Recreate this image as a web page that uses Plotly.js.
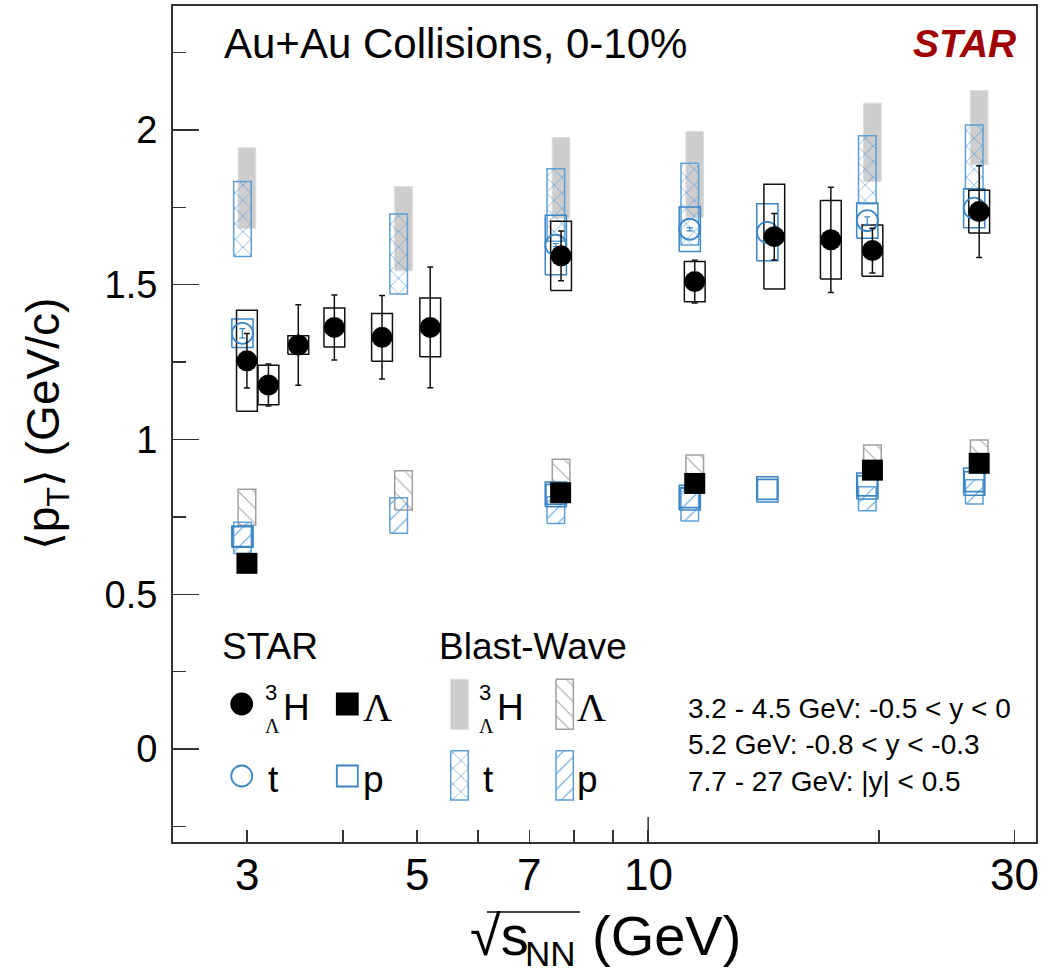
<!DOCTYPE html>
<html><head><meta charset="utf-8">
<script src="https://cdn.plot.ly/plotly-3.0.1.min.js"></script>
<style>html,body{margin:0;padding:0;background:#fff}</style>
</head><body><div id="chart" style="width:1054px;height:973px"></div>
<script>
// ---------------- data ----------------
// STAR hypertriton <pT>
const hEnergy = [3.0, 3.2, 3.5, 3.9, 4.5, 5.2, 7.7, 11.5, 14.6, 17.3, 19.6, 27];
const hMean   = [1.254, 1.176, 1.305, 1.362, 1.330, 1.362, 1.593, 1.510, 1.655, 1.645, 1.610, 1.736];
const hStat   = [0.088, 0.068, 0.130, 0.105, 0.135, 0.195, 0.080, 0.069, 0.075, 0.170, 0.072, 0.148];
const hSys    = [0.163, 0.064, 0.030, 0.063, 0.077, 0.095, 0.112, 0.065, 0.169, 0.127, 0.083, 0.069];
// STAR triton
const tEnergy = [2.96, 7.58, 11.33, 14.3, 19.3, 26.6];
const tMean   = [1.343, 1.628, 1.679, 1.669, 1.707, 1.747];
const tStat   = [0.015, 0.005, 0.005, 0.005, 0.012, 0.005];
const tSys    = [0.046, 0.096, 0.072, 0.092, 0.057, 0.063];
// STAR Lambda
const lEnergy = [3.0, 7.69, 11.5, 19.6, 27];
const lMean   = [0.600, 0.828, 0.858, 0.901, 0.923];
// STAR proton
const pEnergy = [2.96, 7.58, 11.33, 14.3, 19.3, 26.6];
const pMean   = [0.686, 0.823, 0.812, 0.839, 0.850, 0.864];
const pSys    = [0.034, 0.040, 0.040, 0.041, 0.042, 0.044];
// Blast-Wave ranges
const bwHEnergy = [3.0, 4.8, 7.7, 11.5, 19.6, 27];
const bwHLow    = [1.682, 1.545, 1.715, 1.718, 1.833, 1.887];
const bwHHigh   = [1.942, 1.817, 1.975, 1.995, 2.086, 2.127];
const bwLLow    = [0.723, 0.772, 0.835, 0.860, 0.890, 0.910];
const bwLHigh   = [0.839, 0.899, 0.936, 0.950, 0.982, 0.998];
const bwTEnergy = [2.96, 4.73, 7.58, 11.33, 19.3, 26.6];
const bwTLow    = [1.591, 1.470, 1.640, 1.628, 1.761, 1.808];
const bwTHigh   = [1.833, 1.728, 1.874, 1.892, 1.981, 2.016];
const bwPLow    = [0.632, 0.697, 0.729, 0.737, 0.770, 0.792];
const bwPHigh   = [0.733, 0.812, 0.815, 0.842, 0.847, 0.870];
// axis ticks
const xTickVals  = [3, 5, 7, 10, 30];
const xTickText  = ['3', '5', '7', '10', '30'];
const xMinorVals = [4, 6, 8, 9, 20];
const yTickVals  = [0, 0.5, 1, 1.5, 2];
const yTickText  = ['0', '0.5', '1', '1.5', '2'];

// ---------------- geometry / style ----------------
const W = 1054, H = 973, L = 173, R = 18, T = 6, B = 131;
const xLogRange = [0.3808, 1.5054];
const yRange = [-0.3, 2.4];
const pxPerDec = (W - L - R) / (xLogRange[1] - xLogRange[0]);
const BLUE = '#3b86c6', BLUE_H = '#5f9fd6', FRAME = '#333333';
const FONT = 'Liberation Sans, Arial, Helvetica, sans-serif';
const SERIF = 'Liberation Serif, Times New Roman, serif';
const PX = x => (x - L) / (W - L - R);      // pixel -> paper x
const PY = y => (H - B - y) / (H - B - T);  // pixel -> paper y

function boxPath(xs, lo, hi, halfPx) {
  const f = Math.pow(10, halfPx / pxPerDec);
  const X = [], Y = [];
  xs.forEach((x, i) => {
    const a = x / f, b = x * f;
    X.push(a, b, b, a, a, null);
    Y.push(lo[i], lo[i], hi[i], hi[i], lo[i], null);
  });
  return {x: X, y: Y};
}
const minus = (m, e) => m.map((v, i) => v - e[i]);
const plus  = (m, e) => m.map((v, i) => v + e[i]);

const traces = [];
function boxTrace(path, line, fill, pattern, xa, ya) {
  const t = {x: path.x, y: path.y, mode: 'lines', type: 'scatter', hoverinfo: 'skip',
    showlegend: false, connectgaps: false, line: line, fill: 'toself',
    fillcolor: fill || 'rgba(0,0,0,0)'};
  if (pattern) t.fillpattern = pattern;
  if (xa) { t.xaxis = xa; t.yaxis = ya; }
  return t;
}
const patT = {shape: 'x', size: 11, solidity: 0.12, fgcolor: BLUE_H, bgcolor: 'rgba(0,0,0,0)'};
const patP = {shape: '/', size: 11, solidity: 0.1, fgcolor: BLUE_H, bgcolor: 'rgba(0,0,0,0)'};
const patL = {shape: '\\', size: 11, solidity: 0.1, fgcolor: '#a8a8a8', bgcolor: 'rgba(0,0,0,0)'};

// Blast-wave bands
traces.push(boxTrace(boxPath(bwHEnergy, bwHLow, bwHHigh, 8.8), {color: '#dcdcdc', width: 1}, 'rgba(200,200,200,0.9)'));
traces.push(boxTrace(boxPath(bwTEnergy, bwTLow, bwTHigh, 8.8), {color: BLUE_H, width: 1.5}, null, patT));
traces.push(boxTrace(boxPath(bwHEnergy, bwLLow, bwLHigh, 8.8), {color: '#a0a0a0', width: 1.5}, null, patL));
traces.push(boxTrace(boxPath(bwTEnergy, bwPLow, bwPHigh, 8.8), {color: BLUE_H, width: 1.5}, null, patP));
// systematic boxes
traces.push(boxTrace(boxPath(tEnergy, minus(tMean, tSys), plus(tMean, tSys), 10.6), {color: BLUE, width: 1.5}));
traces.push(boxTrace(boxPath(pEnergy, minus(pMean, pSys), plus(pMean, pSys), 10.6), {color: BLUE, width: 1.5}));
traces.push(boxTrace(boxPath(hEnergy, minus(hMean, hSys), plus(hMean, hSys), 10.4), {color: '#111', width: 1.5}));
// data markers
traces.push({x: pEnergy, y: pMean, type: 'scatter', mode: 'markers', showlegend: false, hoverinfo: 'skip',
  marker: {symbol: 'square-open', size: 20, color: BLUE, line: {width: 1.8, color: BLUE}}});
traces.push({x: tEnergy, y: tMean, type: 'scatter', mode: 'markers', showlegend: false, hoverinfo: 'skip',
  error_y: {type: 'data', array: tStat, color: BLUE, thickness: 1.2, width: 3},
  marker: {symbol: 'circle-open', size: 21, color: BLUE, line: {width: 1.8, color: BLUE}}});
traces.push({x: lEnergy, y: lMean, type: 'scatter', mode: 'markers', showlegend: false, hoverinfo: 'skip',
  marker: {symbol: 'square', size: 21, color: '#000'}});
traces.push({x: hEnergy, y: hMean, type: 'scatter', mode: 'markers', showlegend: false, hoverinfo: 'skip',
  error_y: {type: 'data', array: hStat, color: '#111', thickness: 1.5, width: 3},
  marker: {symbol: 'circle', size: 21, color: '#000'}});

// ---------------- hand-made legend (pixel frame on x2/y2) ----------------
const lgMark = (x, y, sym, col) => ({x: [x], y: [y], xaxis: 'x2', yaxis: 'y2', type: 'scatter', mode: 'markers',
  showlegend: false, hoverinfo: 'skip', marker: {symbol: sym, size: 21, color: col, line: {width: 1.8, color: col}}});
traces.push(lgMark(241.7, 704, 'circle', '#000'));
traces.push(lgMark(347.3, 704, 'square', '#000'));
traces.push(lgMark(241.7, 776, 'circle-open', BLUE));
traces.push(lgMark(347.3, 776, 'square-open', BLUE));
const lgBox = (x0, x1, y0, y1) => ({x: [x0, x1, x1, x0, x0], y: [y0, y0, y1, y1, y0]});
traces.push(boxTrace(lgBox(450.7, 468.3, 679.3, 729.3), {color: '#dcdcdc', width: 1}, 'rgba(200,200,200,0.9)', null, 'x2', 'y2'));
traces.push(boxTrace(lgBox(556, 573.3, 679.3, 729.3), {color: '#a0a0a0', width: 1.5}, null, patL, 'x2', 'y2'));
traces.push(boxTrace(lgBox(450.7, 468.3, 750.7, 800), {color: BLUE_H, width: 1.5}, null, patT, 'x2', 'y2'));
traces.push(boxTrace(lgBox(556, 573.3, 750.7, 800), {color: BLUE_H, width: 1.5}, null, patP, 'x2', 'y2'));

const ann = (x, y, text, size, opts) => Object.assign({xref: 'paper', yref: 'paper', x: PX(x), y: PY(y), text: text,
  showarrow: false, xanchor: 'left', yanchor: 'middle', font: {family: FONT, size: size, color: '#000'}}, opts || {});
const annotations = [
  ann(222, 44, 'Au+Au Collisions, 0-10%', 42),
  ann(1018, 43, '<b><i>STAR</i></b>', 39, {xanchor: 'right', font: {family: FONT, size: 39, color: '#a00000'}}),
  ann(220, 646, 'STAR', 37),
  ann(437, 646, 'Blast-Wave', 37),
  ann(263, 692, '3', 22), ann(263, 726, 'Λ', 20, {font: {family: SERIF, size: 20, color: '#000'}}),
  ann(281, 707, 'H', 37),
  ann(361, 707, 'Λ', 40, {font: {family: SERIF, size: 40, color: '#000'}}),
  ann(477, 692, '3', 22), ann(477, 726, 'Λ', 20, {font: {family: SERIF, size: 20, color: '#000'}}),
  ann(495, 707, 'H', 37),
  ann(575, 707, 'Λ', 40, {font: {family: SERIF, size: 40, color: '#000'}}),
  ann(266, 779, 't', 37),
  ann(361, 779, 'p', 37),
  ann(481, 779, 't', 37),
  ann(575, 779, 'p', 37),
  ann(686, 745, '3.2 - 4.5 GeV: -0.5 < y < 0<br>5.2 GeV: -0.8 < y < -0.3<br>7.7 - 27 GeV: |y| < 0.5', 28, {align: 'left'}),
  // x-axis title pieces
  ann(468, 935, '√s', 56),
  ann(523, 953, 'NN', 35),
  ann(590, 935, '(GeV)', 56)
];
// x tick labels placed on the log axis
xTickVals.forEach((v, i) => annotations.push({xref: 'x', yref: 'paper', x: Math.log10(v), y: PY(874), text: xTickText[i],
  showarrow: false, xanchor: 'center', yanchor: 'middle', font: {family: FONT, size: 44, color: '#000'}}));

// long major tick at 10 on the x axis, overline of the square root
const x10px = L + (1 - xLogRange[0]) * pxPerDec;
const shapes = [
  {type: 'line', xref: 'paper', yref: 'paper', x0: PX(x10px), x1: PX(x10px), y0: 0, y1: 25 / (H - B - T),
    line: {color: FRAME, width: 1.5}},
  {type: 'line', xref: 'paper', yref: 'paper', layer: 'above', x0: PX(487), x1: PX(580), y0: PY(912), y1: PY(912),
    line: {color: '#444', width: 2}}
];

const layout = {
  width: W, height: H, margin: {l: L, r: R, t: T, b: B, pad: 0},
  paper_bgcolor: '#fff', plot_bgcolor: '#fff', showlegend: false,
  font: {family: FONT, color: '#000'},
  xaxis: {type: 'log', range: xLogRange, tickmode: 'array', tickvals: xTickVals, showticklabels: false,
    ticks: 'inside', ticklen: 12, tickwidth: 1.5, tickcolor: FRAME,
    minor: {tickmode: 'array', tickvals: xMinorVals, ticks: 'inside', ticklen: 12, tickwidth: 1.5, tickcolor: FRAME, showgrid: false},
    showline: true, mirror: true, linecolor: FRAME, linewidth: 2, showgrid: false, zeroline: false},
  yaxis: {range: yRange, tickmode: 'array', tickvals: yTickVals, ticktext: yTickText,
    ticks: 'inside', ticklen: 26, tickwidth: 1.5, tickcolor: FRAME,
    minor: {tick0: 0, dtick: 0.25, ticks: 'inside', ticklen: 13, tickwidth: 1.5, tickcolor: FRAME, showgrid: false},
    showline: true, mirror: true, linecolor: FRAME, linewidth: 2, showgrid: false, zeroline: false,
    tickfont: {size: 38, family: FONT}, ticklabelstandoff: 6,
    title: {text: '⟨p<sub>T</sub>⟩ (GeV/c)', font: {size: 46, family: FONT}, standoff: 30}},
  xaxis2: {overlaying: 'x', anchor: 'y2', range: [L, W - R], visible: false, fixedrange: true},
  yaxis2: {overlaying: 'y', anchor: 'x2', range: [H - B, T], visible: false, fixedrange: true},
  annotations: annotations,
  shapes: shapes
};
Plotly.newPlot('chart', traces, layout, {staticPlot: true, displayModeBar: false});
</script></body></html>
